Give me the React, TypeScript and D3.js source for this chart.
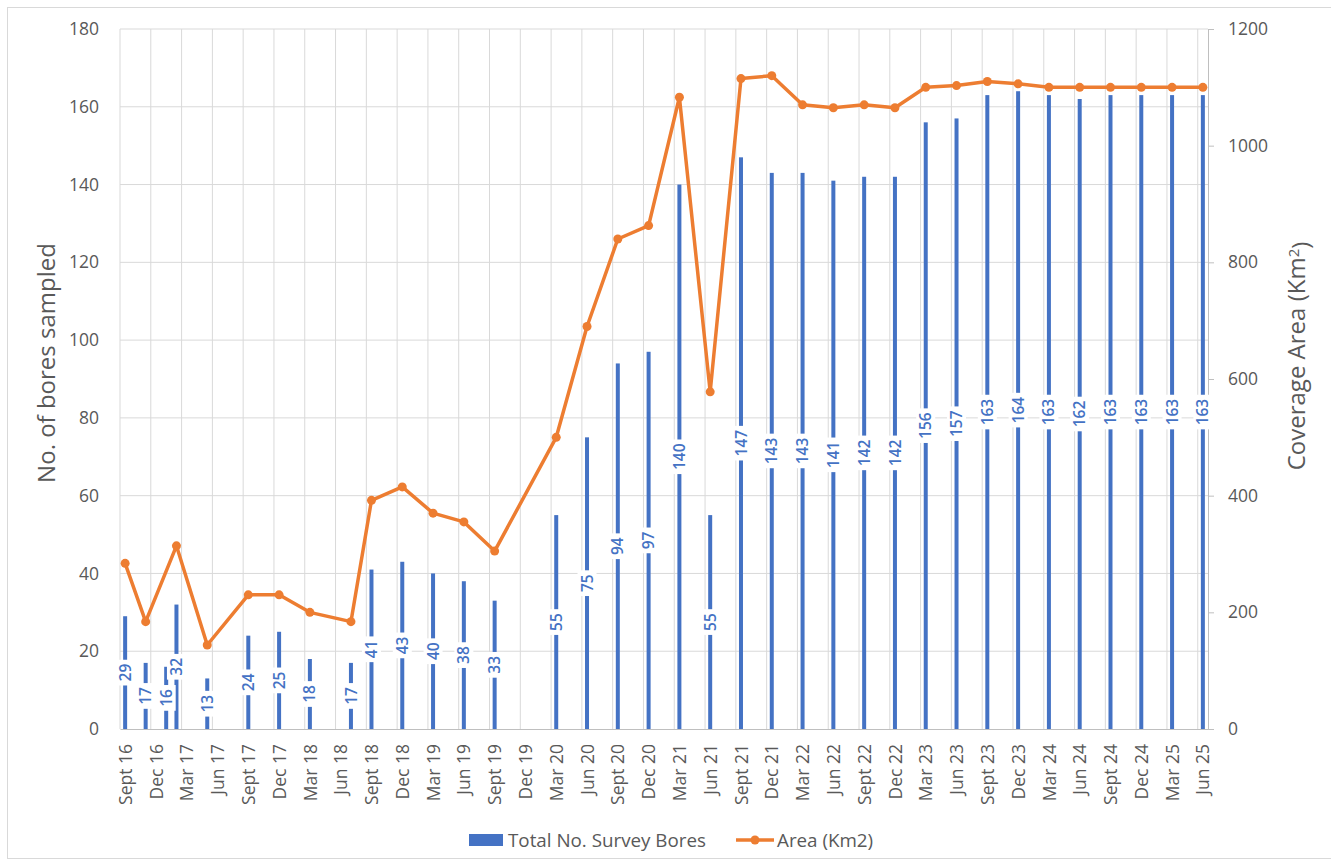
import React, { useEffect, useRef } from "react";
import * as d3 from "d3";

// survey rounds (year-month) and the two series
const surveyDates = [
  "2016-09", "2016-11", "2017-01", "2017-02", "2017-05", "2017-09", "2017-12", "2018-03", "2018-07",
  "2018-09", "2018-12", "2019-03", "2019-06", "2019-09", "2020-03", "2020-06", "2020-09", "2020-12",
  "2021-03", "2021-06", "2021-09", "2021-12", "2022-03", "2022-06", "2022-09", "2022-12", "2023-03",
  "2023-06", "2023-09", "2023-12", "2024-03", "2024-06", "2024-09", "2024-12", "2025-03", "2025-06",
];
const boresSampled = [
  29, 17, 16, 32, 13, 24, 25, 18, 17, 41, 43, 40, 38, 33, 55, 75, 94, 97,
  140, 55, 147, 143, 143, 141, 142, 142, 156, 157, 163, 164, 163, 162, 163, 163, 163, 163,
];
const areaKm2: (number | null)[] = [
  284, 184, null, 314, 144, 230, 230, 200, 184, 392, 415, 370, 355, 305, 500, 690, 840, 863,
  1083, 578, 1115, 1120, 1070, 1065, 1070, 1065, 1100, 1103, 1110, 1106, 1100, 1100, 1100, 1100, 1100, 1100,
];
const leftTicks = [0, 20, 40, 60, 80, 100, 120, 140, 160, 180];
const rightTicks = [0, 200, 400, 600, 800, 1000, 1200];
const monthNames = ["Jan", "Feb", "Mar", "Apr", "May", "Jun", "Jul", "Aug", "Sept", "Oct", "Nov", "Dec"];

const W = 1331;
const H = 865;
const FONT = "'Open Sans', sans-serif";
const BLUE = "#4472C4";
const ORANGE = "#ED7D31";
const GREY = "#595959";

export default function App() {
  const svgRef = useRef<SVGSVGElement>(null);

  useEffect(() => {
    const svg = d3.select(svgRef.current);
    svg.selectAll("*").remove();

    const left = 120, right = 1208, top = 29, bottom = 729;

    const parse = d3.timeParse("%Y-%m");
    const start = parse(surveyDates[0])!;
    const end = parse(surveyDates[surveyDates.length - 1])!;
    const nMonths = d3.timeMonth.count(start, end) + 1;
    const monthOf = (s: string) => d3.timeMonth.count(start, parse(s)!);

    const rows = surveyDates.map((d, i) => ({ m: monthOf(d), bores: boresSampled[i], area: areaKm2[i] }));

    // date axis, one slot per month
    const x = d3.scaleLinear().domain([0, nMonths]).range([left, right]);
    const yL = d3.scaleLinear().domain([0, 180]).range([bottom, top]);
    const yR = d3.scaleLinear().domain([0, 1200]).range([bottom, top]);

    // outer border
    svg.append("rect")
      .attr("x", 7.5).attr("y", 7.5).attr("width", W).attr("height", H - 14)
      .attr("fill", "none").attr("stroke", "#d9d9d9");

    // gridlines
    svg.append("g").selectAll("line")
      .data(leftTicks.filter(t => t > 0))
      .join("line")
      .attr("x1", left).attr("x2", right)
      .attr("y1", d => yL(d)).attr("y2", d => yL(d))
      .attr("stroke", "#d9d9d9");
    const gridMonths = d3.range(0, nMonths, 3);
    svg.append("g").selectAll("line")
      .data(gridMonths)
      .join("line")
      .attr("x1", d => x(d)).attr("x2", d => x(d))
      .attr("y1", top).attr("y2", bottom)
      .attr("stroke", "#d9d9d9");

    // axes
    const gl = svg.append("g")
      .attr("transform", `translate(${left},0)`)
      .call(d3.axisLeft(yL).tickValues(leftTicks).tickSize(0).tickPadding(21));
    gl.select(".domain").remove();

    const gr = svg.append("g")
      .attr("transform", `translate(${right},0)`)
      .call(d3.axisRight(yR).tickValues(rightTicks).tickSize(6).tickSizeOuter(0).tickPadding(14).tickFormat(d3.format("d")));
    gr.select(".domain").attr("stroke", "#bfbfbf");
    gr.selectAll(".tick line").attr("stroke", "#bfbfbf");

    const fmt = (m: number) => {
      const d = d3.timeMonth.offset(start, Math.floor(m));
      return monthNames[d.getMonth()] + " " + d3.timeFormat("%y")(d);
    };
    const gb = svg.append("g")
      .attr("transform", `translate(0,${bottom})`)
      .call(d3.axisBottom(x).tickValues(gridMonths.map(m => m + 0.5)).tickSize(0).tickSizeOuter(0).tickFormat(d => fmt(+d)));
    gb.select(".domain").attr("stroke", "#bfbfbf");
    gb.selectAll(".tick text")
      .attr("transform", "rotate(-90)")
      .attr("x", -15).attr("y", 0).attr("dy", "0.35em")
      .style("text-anchor", "end");

    svg.selectAll(".tick text")
      .attr("fill", GREY)
      .style("font-family", FONT)
      .style("font-size", "17.5px");

    // bars
    svg.append("g").selectAll("rect")
      .data(rows)
      .join("rect")
      .attr("x", d => x(d.m + 0.5) - 2)
      .attr("width", 4)
      .attr("y", d => yL(d.bores))
      .attr("height", d => bottom - yL(d.bores))
      .attr("fill", BLUE);

    // area line
    const lineData = rows.filter(d => d.area != null);
    const line = d3.line<typeof rows[0]>()
      .x(d => x(d.m + 0.5))
      .y(d => yR(d.area as number));
    svg.append("path")
      .datum(lineData)
      .attr("d", line)
      .attr("fill", "none")
      .attr("stroke", ORANGE)
      .attr("stroke-width", 3.5)
      .attr("stroke-linejoin", "round");
    svg.append("g").selectAll("circle")
      .data(lineData)
      .join("circle")
      .attr("cx", d => x(d.m + 0.5))
      .attr("cy", d => yR(d.area as number))
      .attr("r", 4.5)
      .attr("fill", ORANGE);

    // bar value labels, centred in the bar with white box
    const lab = svg.append("g").selectAll("g")
      .data(rows)
      .join("g")
      .attr("transform", d => `translate(${x(d.m + 0.5)},${yL(d.bores / 2)}) rotate(-90)`);
    const box = lab.append("rect").attr("fill", "#fff");
    const txt = lab.append("text")
      .text(d => d.bores)
      .attr("text-anchor", "middle")
      .attr("dy", "0.36em")
      .attr("fill", BLUE)
      .style("font-family", FONT)
      .style("font-size", "15.5px")
      .style("font-weight", 600);
    txt.each(function () {
      const w = (this as SVGTextElement).getComputedTextLength();
      d3.select((this as SVGTextElement).parentNode as SVGGElement).select("rect")
        .attr("x", -w / 2 - 4).attr("width", w + 8)
        .attr("y", -9.5).attr("height", 19);
    });
    box.lower();

    // axis titles
    svg.append("text")
      .attr("transform", "translate(47,363) rotate(-90)")
      .attr("text-anchor", "middle")
      .attr("dy", "0.35em")
      .attr("fill", GREY)
      .style("font-family", FONT)
      .style("font-size", "24px")
      .text("No. of bores sampled");
    const rt = svg.append("text")
      .attr("transform", "translate(1297,356) rotate(-90)")
      .attr("text-anchor", "middle")
      .attr("dy", "0.35em")
      .attr("fill", GREY)
      .style("font-family", FONT)
      .style("font-size", "24px");
    rt.append("tspan").text("Coverage Area (Km");
    rt.append("tspan").text("2").attr("dy", "-0.45em").style("font-size", "15px");
    rt.append("tspan").text(")").attr("dy", "0.45em");

    // legend
    const lg = svg.append("g").style("font-family", FONT).style("font-size", "18.8px").attr("fill", GREY);
    lg.append("rect").attr("x", 469).attr("y", 834).attr("width", 34).attr("height", 12).attr("fill", BLUE);
    lg.append("text").attr("x", 508).attr("y", 840).attr("dy", "0.35em").text("Total No. Survey Bores");
    lg.append("line").attr("x1", 736).attr("x2", 774).attr("y1", 840).attr("y2", 840)
      .attr("stroke", ORANGE).attr("stroke-width", 3.5);
    lg.append("circle").attr("cx", 755).attr("cy", 840).attr("r", 4.5).attr("fill", ORANGE);
    lg.append("text").attr("x", 777).attr("y", 840).attr("dy", "0.35em").text("Area (Km2)");
  }, []);

  return (
    <svg
      ref={svgRef}
      width={W}
      height={H}
      style={{ position: "absolute", left: 0, top: 0, background: "#fff" }}
    />
  );
}
